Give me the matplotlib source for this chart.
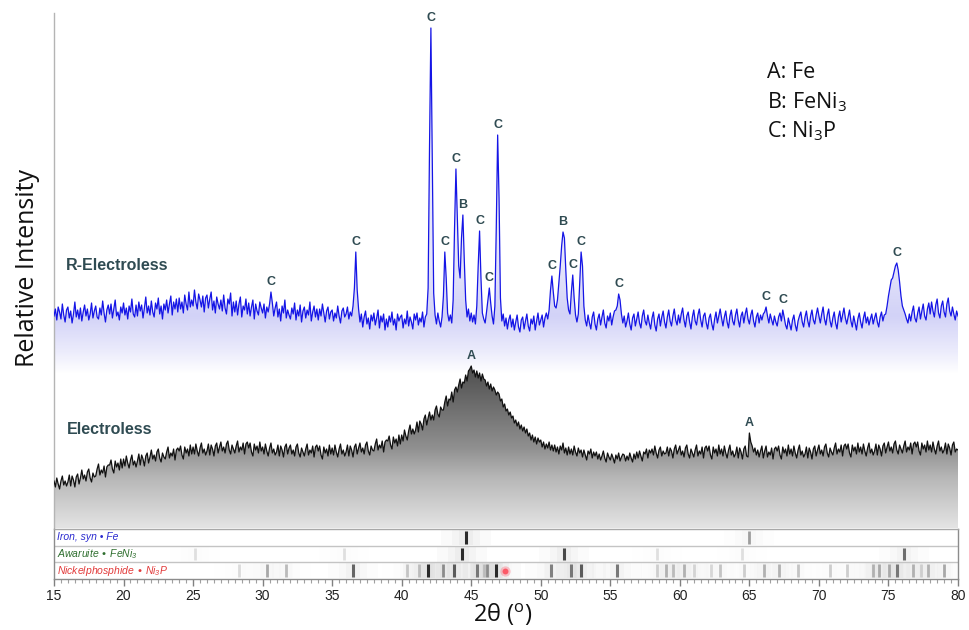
import numpy as np
import matplotlib
matplotlib.use("Agg")
import matplotlib.pyplot as plt
from matplotlib.colors import LinearSegmentedColormap
from matplotlib.ticker import MultipleLocator

# ---------------- data ----------------
# R-Electroless pattern: one row per degree (15.0 ... 79.9, step 0.1), last row = 80.0
blue_start = 15
blue_rows = [
    [212, 219, 208, 221, 216, 209, 224, 213, 206, 218],
    [221, 210, 217, 205, 214, 226, 211, 218, 209, 220],
    [207, 216, 223, 212, 219, 208, 214, 225, 210, 217],
    [222, 211, 209, 220, 213, 227, 215, 206, 218, 223],
    [214, 224, 210, 219, 228, 212, 216, 208, 221, 215],
    [225, 213, 220, 209, 222, 216, 229, 214, 211, 223],
    [212, 226, 217, 223, 210, 220, 231, 215, 222, 213],
    [227, 216, 211, 225, 219, 230, 214, 222, 209, 224],
    [218, 228, 215, 224, 232, 213, 226, 219, 229, 216],
    [230, 219, 226, 215, 233, 224, 218, 236, 221, 228],
    [222, 238, 226, 219, 234, 228, 221, 232, 216, 230],
    [233, 220, 229, 236, 218, 227, 215, 231, 224, 219],
    [228, 217, 233, 220, 214, 229, 224, 235, 212, 226],
    [216, 227, 213, 224, 231, 211, 222, 218, 229, 214],
    [225, 212, 221, 228, 209, 224, 217, 213, 226, 220],
    [215, 224, 210, 221, 216, 224, 236, 225, 212, 220],
    [226, 211, 219, 207, 222, 215, 228, 210, 218, 213],
    [209, 220, 214, 225, 208, 218, 212, 223, 206, 217],
    [221, 210, 218, 213, 226, 207, 216, 222, 211, 219],
    [208, 219, 212, 224, 215, 206, 217, 221, 209, 216],
    [218, 207, 215, 210, 222, 212, 205, 217, 220, 211],
    [214, 221, 209, 216, 212, 222, 240, 276, 238, 219],
    [206, 214, 201, 211, 217, 204, 210, 199, 213, 207],
    [215, 203, 210, 218, 200, 212, 206, 214, 198, 209],
    [201, 212, 206, 216, 203, 209, 198, 214, 207, 211],
    [213, 200, 209, 204, 217, 202, 211, 206, 199, 214],
    [208, 215, 203, 210, 206, 216, 201, 211, 214, 240],
    [380, 500, 370, 235, 213, 204, 215, 207, 201, 211],
    [232, 276, 250, 215, 207, 213, 205, 228, 300, 359],
    [310, 262, 250, 290, 313, 268, 228, 211, 219, 207],
    [215, 206, 213, 204, 222, 262, 297, 250, 215, 209],
    [205, 216, 228, 240, 225, 212, 204, 222, 300, 393],
    [330, 230, 207, 214, 202, 210, 199, 208, 213, 201],
    [209, 198, 206, 213, 201, 196, 208, 211, 199, 207],
    [214, 202, 197, 209, 204, 212, 198, 207, 215, 203],
    [208, 213, 201, 210, 215, 209, 218, 238, 252, 236],
    [222, 220, 228, 245, 262, 282, 296, 290, 258, 230],
    [218, 214, 236, 253, 230, 213, 206, 214, 245, 276],
    [262, 222, 208, 202, 213, 205, 199, 211, 216, 204],
    [198, 209, 214, 203, 211, 218, 205, 200, 212, 207],
    [215, 203, 211, 217, 218, 222, 234, 228, 214, 205],
    [212, 201, 207, 215, 204, 198, 210, 214, 202, 209],
    [216, 205, 200, 212, 218, 207, 203, 213, 205, 199],
    [210, 216, 203, 197, 209, 214, 202, 211, 217, 206],
    [200, 211, 218, 207, 202, 212, 219, 208, 203, 213],
    [205, 214, 220, 208, 201, 212, 216, 206, 199, 211],
    [218, 207, 203, 213, 219, 208, 201, 212, 215, 205],
    [199, 210, 214, 204, 198, 209, 216, 205, 212, 219],
    [210, 202, 211, 217, 206, 200, 212, 218, 207, 203],
    [213, 219, 208, 201, 212, 216, 205, 214, 220, 209],
    [204, 213, 218, 207, 201, 211, 215, 205, 213, 208],
    [214, 216, 221, 212, 205, 214, 208, 203, 212, 206],
    [202, 211, 215, 207, 218, 211, 203, 199, 210, 204],
    [198, 208, 213, 203, 197, 207, 212, 216, 206, 201],
    [211, 217, 207, 201, 212, 218, 208, 204, 213, 220],
    [212, 205, 214, 221, 209, 203, 213, 219, 207, 201],
    [210, 216, 205, 199, 211, 217, 206, 213, 220, 210],
    [204, 211, 218, 207, 201, 212, 205, 198, 209, 215],
    [206, 200, 210, 216, 205, 211, 203, 209, 214, 204],
    [210, 215, 206, 201, 211, 216, 207, 213, 214, 222],
    [232, 240, 248, 250, 256, 262, 265, 258, 246, 232],
    [222, 218, 214, 209, 205, 214, 207, 216, 222, 210],
    [206, 215, 221, 209, 217, 224, 212, 208, 219, 225],
    [214, 226, 217, 211, 223, 229, 215, 210, 222, 227],
    [216, 211, 224, 230, 217, 212, 221, 214, 208, 217],
    [212],
]
blue_step = 0.1

# Electroless pattern: one row per degree (step 0.1), last row = 80.0
black_start = 15
black_rows = [
    [47, 41, 50, 44, 39, 47, 52, 43, 47, 42],
    [46, 53, 42, 52, 48, 41, 51, 54, 44, 50],
    [58, 49, 53, 47, 56, 59, 50, 46, 55, 51],
    [52, 59, 64, 53, 58, 55, 62, 51, 61, 63],
    [63, 68, 59, 55, 67, 61, 65, 58, 69, 60],
    [69, 62, 72, 65, 60, 68, 73, 63, 67, 61],
    [67, 74, 63, 73, 69, 62, 72, 75, 65, 71],
    [78, 69, 73, 67, 76, 79, 70, 66, 75, 71],
    [69, 76, 81, 70, 75, 72, 79, 68, 78, 80],
    [77, 82, 73, 69, 81, 75, 79, 72, 83, 74],
    [81, 74, 84, 77, 72, 80, 85, 75, 79, 73],
    [77, 84, 73, 83, 79, 72, 82, 85, 75, 81],
    [86, 77, 81, 75, 84, 87, 78, 74, 83, 79],
    [75, 82, 87, 76, 81, 78, 85, 74, 84, 86],
    [80, 85, 76, 72, 84, 78, 82, 75, 86, 77],
    [81, 74, 84, 77, 72, 80, 85, 75, 79, 73],
    [76, 83, 72, 82, 78, 71, 81, 84, 74, 80],
    [83, 74, 78, 72, 81, 84, 75, 71, 80, 76],
    [72, 79, 84, 73, 78, 75, 82, 71, 81, 83],
    [77, 82, 73, 69, 81, 75, 79, 72, 83, 74],
    [80, 73, 83, 76, 71, 79, 84, 74, 78, 72],
    [76, 83, 72, 82, 78, 71, 81, 84, 74, 80],
    [85, 76, 80, 74, 83, 86, 77, 73, 82, 78],
    [77, 84, 89, 78, 83, 80, 87, 76, 86, 88],
    [87, 92, 83, 79, 91, 85, 89, 82, 93, 84],
    [93, 87, 98, 92, 88, 97, 103, 94, 99, 94],
    [98, 106, 96, 107, 104, 98, 109, 113, 103, 110],
    [116, 108, 113, 108, 118, 122, 114, 111, 121, 118],
    [118, 126, 132, 122, 129, 128, 136, 126, 138, 141],
    [136, 143, 149, 140, 146, 145, 153, 147, 157, 159],
    [162, 155, 158, 151, 157, 150, 155, 147, 154, 149],
    [148, 142, 146, 139, 144, 137, 141, 138, 133, 136],
    [134, 127, 129, 121, 124, 117, 119, 113, 116, 110],
    [112, 105, 108, 102, 106, 99, 103, 97, 101, 95],
    [99, 92, 95, 88, 93, 86, 91, 84, 90, 86],
    [88, 81, 86, 79, 84, 80, 86, 78, 83, 77],
    [83, 76, 81, 74, 82, 78, 85, 75, 80, 73],
    [81, 74, 79, 73, 82, 76, 72, 80, 75, 78],
    [71, 78, 73, 68, 77, 74, 79, 70, 76, 72],
    [76, 69, 74, 68, 72, 77, 70, 66, 75, 71],
    [68, 74, 70, 65, 73, 69, 75, 67, 71, 74],
    [73, 67, 72, 68, 75, 70, 66, 74, 69, 76],
    [70, 77, 72, 67, 76, 74, 79, 70, 78, 75],
    [79, 73, 82, 75, 70, 78, 81, 72, 77, 74],
    [75, 81, 72, 80, 77, 70, 79, 83, 74, 78],
    [82, 73, 77, 71, 80, 83, 74, 70, 79, 75],
    [71, 78, 83, 72, 77, 74, 81, 70, 80, 82],
    [77, 82, 73, 69, 81, 75, 79, 72, 83, 74],
    [79, 72, 82, 75, 70, 78, 83, 73, 77, 71],
    [74, 81, 70, 80, 76, 69, 79, 82, 72, 71],
    [95, 86, 82, 76, 80, 73, 78, 71, 77, 82],
    [70, 77, 82, 71, 76, 73, 80, 69, 79, 81],
    [77, 82, 73, 69, 81, 75, 79, 72, 83, 74],
    [79, 72, 82, 75, 70, 78, 83, 73, 77, 71],
    [74, 81, 70, 80, 76, 69, 79, 82, 72, 78],
    [83, 74, 78, 72, 81, 84, 75, 71, 80, 76],
    [73, 80, 85, 74, 79, 76, 83, 72, 82, 84],
    [79, 84, 75, 71, 83, 77, 81, 74, 85, 76],
    [81, 74, 84, 77, 72, 80, 85, 75, 79, 73],
    [77, 84, 73, 83, 79, 72, 82, 85, 75, 81],
    [86, 77, 81, 75, 84, 87, 78, 74, 83, 79],
    [75, 82, 87, 76, 81, 78, 85, 74, 84, 86],
    [81, 86, 77, 73, 85, 79, 83, 76, 87, 78],
    [83, 76, 86, 79, 74, 82, 87, 77, 81, 75],
    [78, 85, 74, 84, 80, 73, 83, 86, 76, 79],
    [78],
]
black_step = 0.1

# peak labels (position, peak height, phase letter)
blue_lab_x = [30.6, 36.7, 42.1, 43.1, 43.9, 44.4, 45.6, 46.3, 46.9, 50.8,
              51.6, 52.3, 52.9, 55.6, 66.2, 67.4, 75.6]
blue_lab_y = [236, 276, 500, 276, 359, 313, 297, 240, 393, 252,
              296, 253, 276, 234, 221, 218, 265]
blue_lab_t = ["C", "C", "C", "C", "C", "B", "C", "C", "C", "C",
              "B", "C", "C", "C", "C", "C", "C"]
black_lab_x = [45.0, 65.0]
black_lab_y = [162, 95]
black_lab_t = ["A", "A"]

sample_names = ["R-Electroless", "Electroless"]
legend_lines = ["A: Fe", r"B: FeNi$\mathregular{_3}$", r"C: Ni$\mathregular{_3}$P"]

# reference patterns (position, relative strength)
fe_pos = [44.64, 64.96]
fe_str = [1.0, 0.4]
feni3_pos = [25.12, 35.84, 44.35, 51.66, 58.37, 64.5, 76.10]
feni3_str = [0.06, 0.06, 1.0, 0.85, 0.06, 0.06, 0.65]
ni3p_pos = [28.29, 30.33, 31.70, 36.48, 40.40, 41.23, 41.88, 42.96, 43.75, 45.38,
            45.90, 46.15, 46.75, 50.70, 52.14, 52.86, 55.49, 58.37, 59.04, 59.52,
            60.33, 61.00, 62.25, 62.87, 64.60, 66.03, 67.14, 68.48, 70.78, 72.03,
            73.90, 74.33, 75.05, 75.58, 76.78, 77.35, 77.83, 78.98]
ni3p_str = [0.08, 0.35, 0.25, 0.7, 0.2, 0.25, 1.0, 0.5, 0.75, 0.6,
            0.25, 0.5, 1.0, 0.55, 0.6, 0.75, 0.6, 0.15, 0.3, 0.25,
            0.3, 0.12, 0.1, 0.2, 0.15, 0.3, 0.3, 0.2, 0.15, 0.15,
            0.3, 0.35, 0.35, 0.6, 0.3, 0.15, 0.3, 0.35]
ni3p_marker = 47.46
row_names = ["Iron, syn \u2022 Fe",
             "Awaruite \u2022 FeNi$\\mathregular{_3}$",
             "Nickelphosphide \u2022 Ni$\\mathregular{_3}$P"]
row_colors = ["#2b2bd0", "#2e6e2e", "#e23a3a"]

x_ticks = [15, 20, 25, 30, 35, 40, 45, 50, 55, 60, 65, 70, 75, 80]


def flatten(rows, start, step):
    xs, ys = [], []
    for i, row in enumerate(rows):
        for j, v in enumerate(row):
            xs.append(start + i + j * step)
            ys.append(v)
    return np.array(xs), np.array(ys, dtype=float)


blue_x, blue_y = flatten(blue_rows, blue_start, blue_step)
black_x, black_y = flatten(black_rows, black_start, black_step)

# ---------------- figure ----------------
W, H = 970, 630
fig = plt.figure(figsize=(W / 100, H / 100), dpi=100)
L, R = 54, 958
ax = fig.add_axes([L / W, (H - 528) / H, (R - L) / W, 515 / H])
for s in ["top", "right", "bottom"]:
    ax.spines[s].set_visible(False)
ax.spines["left"].set_color("#b4b4b4")
ax.spines["left"].set_linewidth(1.0)
ax.set_xticks([])
ax.set_yticks([])

# gradient fills
grad = np.linspace(0, 1, 256).reshape(-1, 1)
blue_floor = 154
cm_blue = LinearSegmentedColormap.from_list(
    "bl", [(0, "#ffffff"), (0.06, "#ececfc"), (0.16, "#d2d2f7"),
           (0.3, "#e4e4fa"), (1, "#f7f7ff")])
poly_b = ax.fill_between(blue_x, blue_y, blue_floor, facecolor="none", edgecolor="none")
im_b = ax.imshow(grad, extent=[15, 80, blue_floor, 515], origin="lower",
                 aspect="auto", cmap=cm_blue, zorder=1, interpolation="bilinear")
im_b.set_clip_path(poly_b.get_paths()[0], transform=ax.transData)

cm_black = LinearSegmentedColormap.from_list(
    "bk", [(0, "#e4e4e4"), (0.3, "#b6b6b6"), (0.47, "#909090"), (1, "#474747")])
poly_k = ax.fill_between(black_x, black_y, 0, facecolor="none", edgecolor="none")
im_k = ax.imshow(grad, extent=[15, 80, 0, 170], origin="lower",
                 aspect="auto", cmap=cm_black, zorder=1, interpolation="bilinear")
im_k.set_clip_path(poly_k.get_paths()[0], transform=ax.transData)
ax.set_xlim(15, 80)
ax.set_ylim(0, 515)

ax.plot(blue_x, blue_y, color="#1515e6", lw=0.9, zorder=3)
ax.plot(black_x, black_y, color="#111111", lw=0.9, zorder=3)

lab_color = "#2f4b52"
for x, y, t in zip(blue_lab_x, blue_lab_y, blue_lab_t):
    ax.annotate(t, (x, y), xytext=(0, 3), textcoords="offset points",
                ha="center", va="bottom", fontsize=9, fontweight="bold",
                color=lab_color, family="Liberation Sans", zorder=4)
for x, y, t in zip(black_lab_x, black_lab_y, black_lab_t):
    ax.annotate(t, (x, y), xytext=(0, 3), textcoords="offset points",
                ha="center", va="bottom", fontsize=9, fontweight="bold",
                color=lab_color, family="Liberation Sans", zorder=4)

ax.text(15.85, 262, sample_names[0], ha="left", va="center", fontsize=11.5,
        fontweight="bold", color=lab_color, family="Liberation Sans", zorder=4)
ax.text(15.9, 98, sample_names[1], ha="left", va="center", fontsize=11.5,
        fontweight="bold", color=lab_color, family="Liberation Sans", zorder=4)

for i, t in enumerate(legend_lines):
    ax.text(66.3, 455 - i * 29, t, ha="left", va="center", fontsize=15.5,
            family="Open Sans", color="#111111", zorder=4)

# ---------------- reference strips ----------------
sx = fig.add_axes([L / W, (H - 579) / H, (R - L) / W, 50 / H])
sx.set_xlim(15, 80)
sx.set_ylim(0, 3)
sx.set_yticks([])
for s in sx.spines.values():
    s.set_color("#8c8c8c")
    s.set_linewidth(1.0)
sx.spines["top"].set_color("#a8a8a8")
sx.axhline(1, color="#c4c4c4", lw=1.0)
sx.axhline(2, color="#c4c4c4", lw=1.0)

rows = [(fe_pos, fe_str, 2), (feni3_pos, feni3_str, 1), (ni3p_pos, ni3p_str, 0)]
for pos, st, r in rows:
    for p, s in zip(pos, st):
        for w, a in [(1.8, 0.035), (1.0, 0.045), (0.5, 0.06)]:
            sx.fill_between([p - w, p + w], r + 0.04, r + 0.96, color="#808080",
                            alpha=a * s, lw=0, zorder=1)
        g = 0.92 - 0.75 * s
        sx.vlines(p, r + 0.12, r + 0.88, color=(g, g, g), lw=2.0 if s < 0.55 else 2.2,
                  zorder=2)
sx.scatter([ni3p_marker], [0.5], s=55, color="#ff6070", alpha=0.35, lw=0, zorder=3)
sx.scatter([ni3p_marker], [0.5], s=18, color="#ff4050", alpha=0.8, lw=0, zorder=3)

for i, (name, c) in enumerate(zip(row_names, row_colors)):
    sx.text(15.25, 2.5 - i, name, ha="left", va="center", fontsize=7.5,
            style="italic", color=c, family=["Liberation Sans", "DejaVu Sans"], zorder=4)

sx.set_xticks(x_ticks)
sx.xaxis.set_minor_locator(MultipleLocator(0.5))
sx.tick_params(axis="x", which="major", length=5, width=1, color="#808080",
               labelsize=10, labelcolor="#222222", pad=2)
sx.tick_params(axis="x", which="minor", length=3, width=0.8, color="#a0a0a0")
for lab in sx.get_xticklabels():
    lab.set_family("Liberation Sans")

fig.text(28 / W, 1 - 268 / H, "Relative Intensity", rotation=90, ha="center",
         va="center", fontsize=18, family="Open Sans", color="#111111")
fig.text(503 / W, 1 - 615 / H, r"2θ ($\mathregular{^o}$)", ha="center", va="center",
         fontsize=17, family="Open Sans", color="#111111")

fig.savefig("out.png", dpi=100, facecolor="white")
